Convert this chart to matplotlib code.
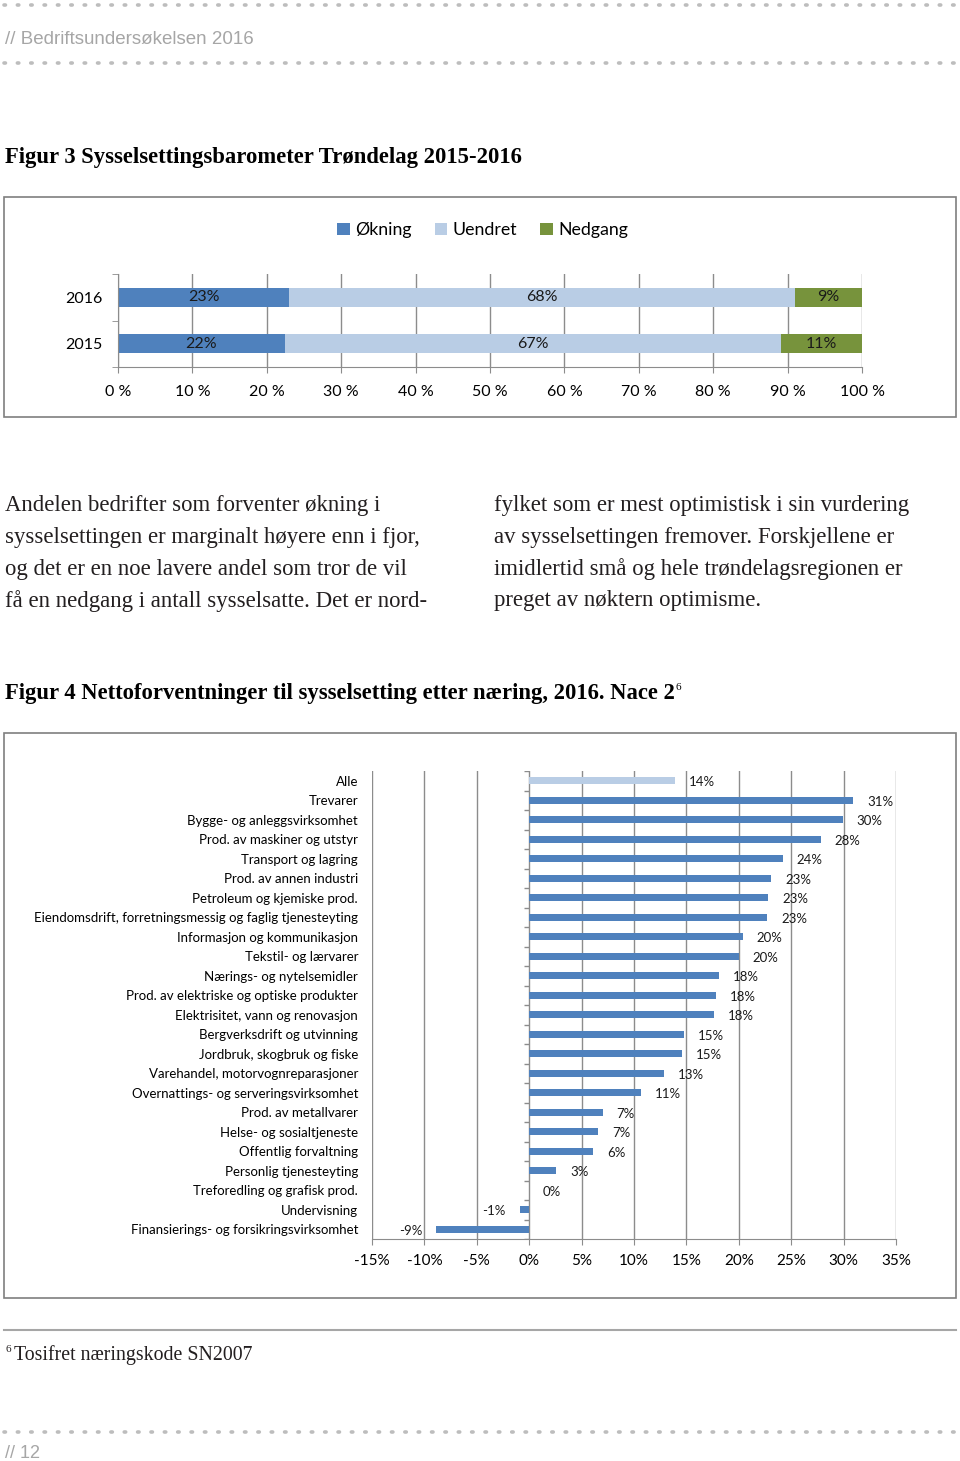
import numpy as np
import matplotlib
matplotlib.use("Agg")
import matplotlib.pyplot as plt
from matplotlib.lines import Line2D
from matplotlib.patches import Rectangle
import matplotlib.ticker as mticker

W, H = 960, 1461

# --- Figur 3 data ---
years = ["2015", "2016"]
okning = [22.4, 23.0]
uendret = [66.7, 68.0]
nedgang = [10.9, 9.0]

# --- Figur 4 data (top to bottom) ---
naering = [
    "Alle",
    "Trevarer",
    "Bygge- og anleggsvirksomhet",
    "Prod. av maskiner og utstyr",
    "Transport og lagring",
    "Prod. av annen industri",
    "Petroleum og kjemiske prod.",
    "Eiendomsdrift, forretningsmessig og faglig tjenesteyting",
    "Informasjon og kommunikasjon",
    "Tekstil- og lærvarer",
    "Nærings- og nytelsemidler",
    "Prod. av elektriske og optiske produkter",
    "Elektrisitet, vann og renovasjon",
    "Bergverksdrift og utvinning",
    "Jordbruk, skogbruk og fiske",
    "Varehandel, motorvognreparasjoner",
    "Overnattings- og serveringsvirksomhet",
    "Prod. av metallvarer",
    "Helse- og sosialtjeneste",
    "Offentlig forvaltning",
    "Personlig tjenesteyting",
    "Treforedling og grafisk prod.",
    "Undervisning",
    "Finansierings- og forsikringsvirksomhet",
]
netto = [13.9, 30.9, 29.9, 27.8, 24.2, 23.1, 22.8, 22.7, 20.4, 20.0, 18.1, 17.8,
         17.6, 14.8, 14.6, 12.9, 10.7, 7.0, 6.6, 6.1, 2.6, 0.0, -0.9, -8.9]

DARK = "#4F81BD"
LIGHT = "#B9CDE5"
GREEN = "#77933C"
GRID = "#8C8C8C"
CHART_FONT = ["Lato", "DejaVu Sans"]
SERIF = ["Liberation Serif", "DejaVu Serif"]
GREYSANS = ["Liberation Sans Narrow", "Liberation Sans"]


def box(l, t, r, b):
    return [l / W, 1 - b / H, (r - l) / W, (b - t) / H]


def fy(y):
    return 1 - y / H


def fx(x):
    return x / W


fig = plt.figure(figsize=(W / 100, H / 100), dpi=100)

# dotted rules
for yy in (5, 63, 1432):
    fig.add_artist(Line2D([fx(4), fx(956)], [fy(yy), fy(yy)], color="#BDBDBD",
                          lw=2.6, linestyle=(0, (0.4, 3.3)), dash_capstyle="round"))

fig.text(fx(5), fy(40), "// Bedriftsundersøkelsen 2016", color="#A6A6A6", fontsize=13.5,
         family=GREYSANS, va="center", ha="left")

fig.text(fx(5), fy(158), "Figur 3 Sysselsettingsbarometer Trøndelag 2015-2016",
         fontsize=16.3, fontweight="bold", family=SERIF, va="center", ha="left")

# chart boxes
fig.add_artist(Rectangle((fx(4), fy(417)), fx(952), (417 - 197) / H, fill=False,
                         edgecolor="#7F7F7F", lw=1.2, transform=fig.transFigure))
fig.add_artist(Rectangle((fx(4), fy(1298)), fx(952), (1298 - 733) / H, fill=False,
                         edgecolor="#7F7F7F", lw=1.2, transform=fig.transFigure))

# ---------------- Figur 3 ----------------
ax1 = fig.add_axes(box(118, 274, 862, 367))
y1 = np.arange(len(years))
b1 = ax1.barh(y1, okning, height=0.41, color=DARK, label="Økning")
left2 = np.array(okning)
b2 = ax1.barh(y1, uendret, left=left2, height=0.41, color=LIGHT, label="Uendret")
left3 = left2 + np.array(uendret)
b3 = ax1.barh(y1, nedgang, left=left3, height=0.41, color=GREEN, label="Nedgang")
for bars in (b1, b2, b3):
    ax1.bar_label(bars, labels=[f"{v:.0f}%" for v in bars.datavalues], label_type="center",
                  fontsize=11.5, family=CHART_FONT, color="#1A1A1A")
ax1.set_xlim(0, 100)
ax1.set_ylim(-0.5, 1.5)
ax1.set_xticks(np.arange(0, 101, 10))
ax1.xaxis.set_major_formatter(mticker.FuncFormatter(lambda v, p: f"{v:.0f} %"))
ax1.set_yticks(y1)
ax1.set_yticklabels(years)
ax1.set_yticks([-0.5, 0.5, 1.5], minor=True)
ax1.tick_params(axis="y", which="major", length=0, pad=11, labelsize=11.5)
ax1.tick_params(axis="y", which="minor", length=4, color=GRID, direction="out")
ax1.tick_params(axis="x", length=4, color=GRID, pad=9, labelsize=11.5)
for lab in ax1.get_xticklabels() + ax1.get_yticklabels():
    lab.set_family(CHART_FONT)
ax1.grid(axis="x", color=GRID, lw=1)
ax1.set_axisbelow(True)
for s in ("top", "right"):
    ax1.spines[s].set_visible(False)
for s in ("left", "bottom"):
    ax1.spines[s].set_color(GRID)
ax1.legend(loc="center", bbox_to_anchor=(0.49, 1.47), ncol=3, frameon=False,
           handlelength=0.7, handleheight=0.7, handletextpad=0.3, columnspacing=1.3,
           prop={"family": CHART_FONT, "size": 12.8})

# ---------------- text paragraphs ----------------
left_lines = [
    "Andelen bedrifter som forventer økning i",
    "sysselsettingen er marginalt høyere enn i fjor,",
    "og det er en noe lavere andel som tror de vil",
    "få en nedgang i antall sysselsatte. Det er nord-",
]
right_lines = [
    "fylket som er mest optimistisk i sin vurdering",
    "av sysselsettingen fremover. Forskjellene er",
    "imidlertid små og hele trøndelagsregionen er",
    "preget av nøktern optimisme.",
]
for i, (a, b) in enumerate(zip(left_lines, right_lines)):
    yy = 506 + i * 31.6
    fig.text(fx(5), fy(yy), a, fontsize=16.4, family=SERIF, color="#231F20", va="center")
    fig.text(fx(494), fy(yy), b, fontsize=16.4, family=SERIF, color="#231F20", va="center")

t4 = fig.text(fx(5), fy(694), "Figur 4 Nettoforventninger til sysselsetting etter næring, 2016. Nace 2",
              fontsize=16.3, fontweight="bold", family=SERIF, va="center", ha="left")
fig.canvas.draw()
bb = t4.get_window_extent()
fig.text(bb.x1 / W + 0.001, fy(688), "6", fontsize=8, family=SERIF, va="center", ha="left")

# ---------------- Figur 4 ----------------
ax2 = fig.add_axes(box(372, 771, 896, 1239))
y2 = np.arange(len(naering))
colors = [LIGHT] + [DARK] * (len(naering) - 1)
ax2.barh(y2, netto, height=0.35, color=colors, zorder=3)
for yi, v in zip(y2, netto):
    off = 10 if v >= 0 else -10
    ax2.annotate(f"{v:.0f}%", (v, yi), xytext=(off, -1), textcoords="offset points",
                 ha="left" if v >= 0 else "right", va="center", fontsize=9.5,
                 family=CHART_FONT, color="#1A1A1A", zorder=4)
ax2.set_xlim(-15, 35)
ax2.set_ylim(len(naering) - 0.5, -0.5)
ax2.set_xticks(np.arange(-15, 36, 5))
ax2.xaxis.set_major_formatter(mticker.FuncFormatter(lambda v, p: f"{v:.0f}%"))
ax2.set_yticks(y2)
ax2.set_yticklabels(naering)
ax2.tick_params(axis="y", length=0, pad=10, labelsize=9.5)
ax2.tick_params(axis="x", length=4, color=GRID, pad=7, labelsize=11)
for lab in ax2.get_xticklabels() + ax2.get_yticklabels():
    lab.set_family(CHART_FONT)
ax2.grid(axis="x", color=GRID, lw=1, zorder=0)
# category boundary ticks on the zero axis
ax2.hlines(np.arange(-0.5, len(naering), 1), -0.45, 0, color=GRID, lw=1, zorder=2)
for s in ("top", "right", "left"):
    ax2.spines[s].set_visible(False)
ax2.spines["bottom"].set_color(GRID)

# ---------------- footer ----------------
fig.add_artist(Line2D([fx(4), fx(956)], [fy(1330), fy(1330)], color="#A6A6A6", lw=1.5))
fig.text(fx(5), fy(1350), "6", fontsize=8, family=SERIF, color="#231F20", va="center", ha="left")
fig.text(fx(14), fy(1355), "Tosifret næringskode SN2007", fontsize=14.3, family=SERIF,
         color="#231F20", va="center", ha="left")
fig.text(fx(5), fy(1454), "// 12", color="#A6A6A6", fontsize=13,
         family=GREYSANS, va="center", ha="left")

fig.savefig("out.png", dpi=100)
